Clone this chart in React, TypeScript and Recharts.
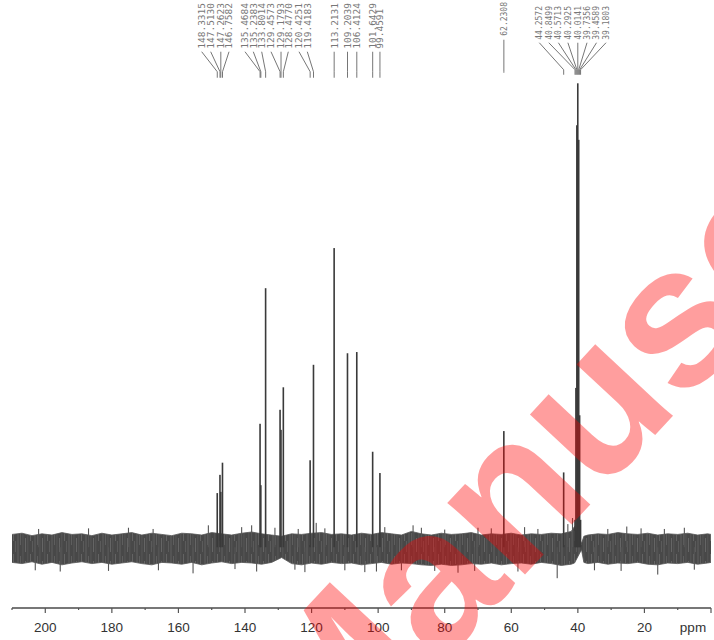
import React from 'react';
import { ComposedChart, XAxis, YAxis, Area, Bar, ReferenceDot } from 'recharts';

// ---- Data ----
const PEAK_PPM = [
  148.3315, 147.513, 147.2623, 146.7582, 135.4684, 135.2383, 133.8014, 129.4573, 129.1793,
  128.477, 120.4251, 119.4183, 113.2131, 109.2039, 106.4124, 101.6429, 99.4591, 62.2308,
  44.2572, 40.8499, 40.5713, 40.2925, 40.0141, 39.7356, 39.4589, 39.1803,
];
const PEAK_HEIGHT = [
  8.9, 11.9, 9.1, 13.9, 20.3, 10.2, 42.6, 22.6, 19.3,
  26.3, 14.3, 30.0, 49.2, 31.9, 32.1, 15.7, 12.2, 19.1,
  12.3, 4.5, 26.2, 69.4, 76.3, 67.0, 21.7, 4.5,
];

const SPIKE_PPM = [
  203, 202, 195.5, 187, 181, 175, 167.6, 166, 155.6, 151, 143, 141, 138, 136.5, 131, 125, 124, 122,
  118.6, 116, 110, 104, 100.5, 98, 93, 89.5, 87, 83, 80, 76, 71, 70, 66, 58, 56, 52, 46.2, 43, 41.6,
  35, 31, 27, 25.3, 21, 16, 14, 8, 5,
];
const SPIKE_VALUE = [
  -3.8, 3.0, -4.0, 3.1, -3.9, 3.2, 3.0, -3.8, -4.3, 3.6, -3.6, 3.3, 3.6, -4.0, 3.2, -3.7, 3.0, -4.1,
  4.0, 3.1, -3.8, -4.1, -4.0, 3.3, -3.8, 3.6, 3.2, -3.9, 2.9, -4.2, -3.9, 3.2, 3.1, -4.0, 3.3, 3.0, -5.1, 3.8, 4.8,
  -3.8, 3.0, -3.9, 3.4, 3.1, -4.5, 3.0, 3.2, -3.7,
];

const NOISE_PPM = [
  210, 207, 204, 201, 198, 195, 192, 189, 186, 183, 180, 177, 174, 171, 168, 165, 162, 159, 156, 153,
  150, 147, 144, 141, 138, 135, 132, 129, 126, 123, 120, 117, 114, 111, 108, 105, 102, 99, 96, 93,
  90, 87, 84, 81, 78, 75, 72, 69, 66, 63, 60, 57, 54, 51, 48, 45, 42, 41, 38.9, 38.2,
  37, 34, 31, 28, 25, 22, 19, 16, 13, 10, 7, 4, 1, 0,
];
const NOISE_HIGH = [
  2.1, 2.3, 1.9, 2.2, 2.0, 2.4, 2.1, 2.2, 1.9, 2.3, 2.0, 2.2, 2.4, 2.0, 2.3, 2.1, 1.9, 2.3, 2.2, 2.0,
  2.4, 2.2, 2.0, 2.3, 2.5, 2.2, 2.0, 1.8, 2.2, 2.1, 2.3, 2.4, 2.1, 2.2, 2.0, 2.3, 2.1, 2.4, 2.2, 2.0,
  2.6, 2.2, 2.0, 2.3, 2.1, 2.2, 2.4, 2.0, 2.2, 2.1, 2.3, 2.0, 2.2, 2.1, 2.3, 2.2, 2.6, 3.4, 0.6, 1.8,
  2.0, 2.2, 2.1, 2.4, 2.2, 2.1, 2.3, 2.0, 2.2, 2.1, 2.3, 2.0, 2.2, 2.1,
];
const NOISE_LOW = [
  -2.5, -2.7, -2.4, -2.8, -2.5, -2.9, -2.6, -2.4, -2.7, -2.5, -2.8, -2.6, -2.4, -2.7, -2.9, -2.5, -2.6, -2.8, -2.5, -2.9,
  -2.6, -2.4, -2.7, -2.5, -2.6, -2.8, -2.5, -1.7, -2.7, -2.9, -2.6, -2.8, -2.5, -2.7, -2.6, -2.9, -2.7, -2.5, -2.8, -2.6,
  -2.7, -2.9, -3.0, -2.8, -3.0, -2.9, -2.7, -2.8, -2.6, -2.9, -2.7, -2.6, -2.8, -2.5, -2.7, -3.0, -2.8, -2.6, -0.4, -2.5,
  -2.7, -2.5, -2.8, -2.6, -2.7, -2.5, -2.8, -2.9, -2.6, -2.7, -2.5, -2.8, -2.6, -2.5,
];

const X_TICKS = [0, 10, 20, 30, 40, 50, 60, 70, 80, 90, 100, 110, 120, 130, 140, 150, 160, 170, 180, 190, 200, 210];

// ---- Layout constants (annotation placement) ----
const LABEL_SLOT_X = [
  201.7, 210.7, 220, 229, 245, 253.3, 261.7, 271, 280, 288.3, 299, 307.3, 334, 346, 355.7, 371.7, 379,
  502,
  539.3, 548.8, 558.4, 567.9, 577.4, 587, 596.5, 606,
];
const LABEL_ANCHOR = 78.2;

// ---- Built tables ----
const barRows = [
  ...PEAK_PPM.map((p, i) => ({ ppm: p, intensity: PEAK_HEIGHT[i], kind: 'peak' })),
  ...SPIKE_PPM.map((p, i) => ({ ppm: p, intensity: SPIKE_VALUE[i], kind: 'spike' })),
].sort((a, b) => a.ppm - b.ppm);

const noiseRows = NOISE_PPM.map((p, i) => ({ ppm: p, noise: [NOISE_LOW[i], NOISE_HIGH[i]] }));

const BarShape = (props: any) => {
  const { x, y, width, height, payload } = props;
  if (x == null || y == null || height == null) return null;
  const cx = x + width / 2;
  const w = payload.kind === 'peak' ? 1.6 : 1.1;
  const top = Math.min(y, y + height);
  const h = Math.abs(height);
  return <rect x={cx - w / 2} y={top} width={w} height={h} fill={payload.kind === 'peak' ? '#3a3a3a' : '#555'} />;
};

const AxisTick = (props: any) => {
  const { x, y, payload } = props;
  const v = payload.value;
  const major = v % 20 === 0;
  return (
    <g>
      <line x1={x} x2={x} y1={y} y2={y + (major ? 5 : 2)} stroke="#555" strokeWidth={1.2} />
      {major && v !== 0 && (
        <text x={x} y={y + 24} textAnchor="middle" fontFamily="Liberation Sans, Arial, sans-serif" fontSize={13.5} fill="#333">
          {v}
        </text>
      )}
      {v === 0 && (
        <text x={x - 18} y={y + 24} textAnchor="middle" fontFamily="Liberation Sans, Arial, sans-serif" fontSize={13.5} fill="#333">
          ppm
        </text>
      )}
    </g>
  );
};

const makeLabelShape = (i: number) => (props: any) => {
  const { cx, cy } = props;
  if (cx == null || cy == null) return <g />;
  const text = PEAK_PPM[i].toFixed(4);
  const slot = Math.abs(LABEL_SLOT_X[i] - cx) < 2 ? cx : LABEL_SLOT_X[i];
  let textBottom: number, lineTop: number, bendY: number, lineBottom: number, fs: number;
  if (i < 17) {
    textBottom = cy - 23; lineTop = cy - 20; bendY = cy; lineBottom = cy + 6; fs = 9.5;
  } else if (i === 17) {
    textBottom = cy - 36; lineTop = cy - 32; bendY = cy; lineBottom = cy + 1; fs = 8;
  } else {
    textBottom = cy - 32; lineTop = cy - 29; bendY = cy - 2; lineBottom = cy + 3; fs = 8;
  }
  const textLen = text.length * 0.602 * fs;
  const center = textBottom - textLen / 2;
  return (
    <g>
      <g transform={`translate(${slot} ${center}) rotate(-90)`}>
        <text
          x={0}
          y={fs * 0.36}
          textAnchor="middle"
          fontFamily="DejaVu Sans Mono, monospace"
          fontSize={fs}
          fill="#777"
        >
          {text}
        </text>
      </g>
      <polyline
        points={`${slot},${lineTop} ${cx},${bendY} ${cx},${lineBottom}`}
        fill="none"
        stroke="#666"
        strokeWidth={0.9}
      />
    </g>
  );
};

export default function App() {
  return (
    <div style={{ position: 'absolute', left: 0, top: 0, width: 714, height: 640, background: '#fff' }}>
      <ComposedChart width={714} height={640} data={barRows} margin={{ top: 0, right: 3, bottom: 0, left: 12 }}>
        <defs>
          <pattern id="noiseTex" width="17" height="23" patternUnits="userSpaceOnUse">
            <rect width="17" height="23" fill="#484848" />
            <rect x="0.5" width="1" height="23" fill="#5f5f5f" />
            <rect x="3" y="4" width="0.7" height="12" fill="#686868" />
            <rect x="5.5" width="0.9" height="23" fill="#575757" />
            <rect x="8" y="9" width="0.8" height="14" fill="#6c6c6c" />
            <rect x="10.5" width="0.7" height="23" fill="#5c5c5c" />
            <rect x="13" y="2" width="0.9" height="10" fill="#666" />
            <rect x="15.2" y="12" width="0.8" height="11" fill="#606060" />
          </pattern>
        </defs>
        <XAxis
          dataKey="ppm"
          type="number"
          domain={[0, 210]}
          reversed
          ticks={X_TICKS}
          interval={0}
          height={32}
          tickSize={0}
          tickMargin={0}
          tickLine={false}
          axisLine={{ stroke: '#4a4a4a', strokeWidth: 1.3 }}
          tick={<AxisTick />}
          allowDataOverflow
        />
        <YAxis hide type="number" domain={[-10, 90]} allowDataOverflow />
        <Area
          data={noiseRows}
          dataKey="noise"
          type="linear"
          fill="url(#noiseTex)"
          fillOpacity={1}
          stroke="#555"
          strokeWidth={0.8}
          isAnimationActive={false}
          dot={false}
          activeDot={false}
        />
        <Bar dataKey="intensity" barSize={2} shape={<BarShape />} isAnimationActive={false} />
        {PEAK_PPM.map((p, i) => (
          <ReferenceDot key={i} x={p} y={LABEL_ANCHOR} r={0} shape={makeLabelShape(i)} />
        ))}
      </ComposedChart>
      <svg width={714} height={640} style={{ position: 'absolute', left: 0, top: 0, pointerEvents: 'none' }}>
        <text
          transform="translate(326 788) rotate(-47)"
          fontFamily="Liberation Sans, Arial, sans-serif"
          fontWeight="bold"
          fontSize={200}
          fill="#ff0000"
          fillOpacity={0.38}
        >
          Manuscript
        </text>
      </svg>
    </div>
  );
}
